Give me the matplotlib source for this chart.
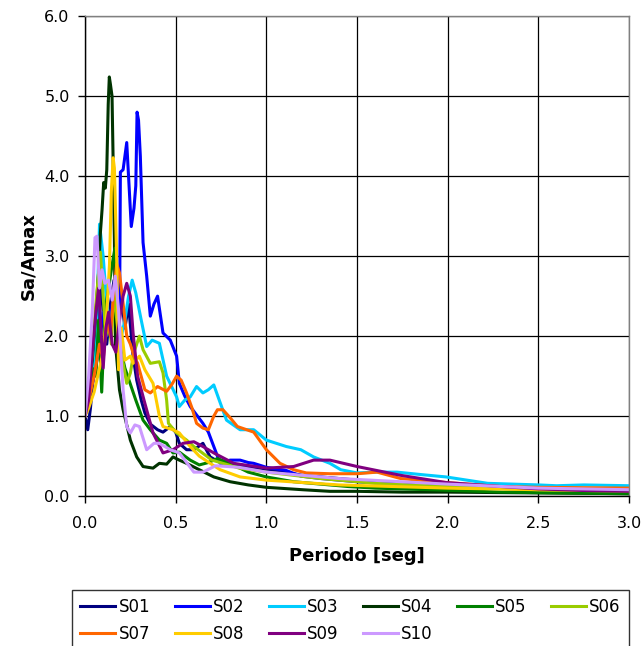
import matplotlib
matplotlib.use("Agg")
import matplotlib.pyplot as plt
from matplotlib.ticker import FormatStrFormatter, MultipleLocator

# Espectros de respuesta normalizados (Sa/Amax) por registro
names = ["S01", "S02", "S03", "S04", "S05", "S06", "S07", "S08", "S09", "S10"]
colors = ["#000080", "#0000FF", "#00CCFF", "#003300", "#008000",
          "#99CC00", "#FF6600", "#FFCC00", "#800080", "#CC99FF"]

s01_t = [0, 0.015, 0.03, 0.05, 0.07, 0.09, 0.1, 0.12, 0.14, 0.16, 0.18, 0.2, 0.22, 0.24, 0.265,
         0.285, 0.31, 0.33, 0.36, 0.4, 0.43, 0.47, 0.5, 0.52, 0.56, 0.6, 0.65, 0.69, 0.72, 0.76,
         0.85, 0.92, 1.0, 1.1, 1.2, 1.35, 1.5, 1.7, 2.0, 2.25, 2.5, 2.75, 3.0]
s01_sa = [1.0, 0.83, 1.1, 1.6, 2.2, 2.6, 2.3, 1.9, 2.4, 2.7, 2.2, 2.5, 2.1, 2.4, 1.75,
          1.45, 1.2, 1.04, 0.9, 0.83, 0.8, 0.87, 0.8, 0.66, 0.58, 0.58, 0.66, 0.49, 0.45, 0.41,
          0.38, 0.36, 0.33, 0.3, 0.26, 0.23, 0.2, 0.16, 0.12, 0.1, 0.08, 0.07, 0.06]

s02_t = [0, 0.02, 0.05, 0.08, 0.1, 0.12, 0.14, 0.16, 0.18, 0.19, 0.195, 0.21, 0.23, 0.255, 0.27,
         0.28, 0.287, 0.295, 0.305, 0.32, 0.34, 0.36, 0.38, 0.40, 0.43, 0.47, 0.505, 0.52, 0.55,
         0.58, 0.62, 0.65, 0.68, 0.71, 0.745, 0.8, 0.855, 0.9, 0.93, 1.0, 1.11, 1.19, 1.3, 1.5,
         1.7, 1.99, 2.2, 2.5, 2.8, 3.0]
s02_sa = [1.0, 1.2, 1.5, 1.9, 2.3, 2.0, 2.2, 2.6, 2.2, 2.0, 4.05, 4.08, 4.42, 3.37, 3.6,
          3.88, 4.8, 4.7, 4.25, 3.17, 2.75, 2.25, 2.4, 2.5, 2.04, 1.95, 1.75, 1.41, 1.25,
          1.12, 1.0, 0.91, 0.8, 0.62, 0.41, 0.45, 0.45, 0.42, 0.41, 0.36, 0.32, 0.25, 0.22, 0.18,
          0.15, 0.12, 0.1, 0.09, 0.08, 0.08]

s03_t = [0, 0.02, 0.035, 0.05, 0.065, 0.08, 0.1, 0.12, 0.14, 0.16, 0.18, 0.2, 0.22, 0.24, 0.26,
         0.28, 0.31, 0.34, 0.37, 0.41, 0.45, 0.505, 0.52, 0.55, 0.58, 0.615, 0.65, 0.68, 0.71,
         0.74, 0.78, 0.855, 0.93, 1.0, 1.11, 1.19, 1.26, 1.35, 1.41, 1.5, 1.6, 1.72, 1.85, 1.99,
         2.22, 2.5, 2.6, 2.75, 3.0]
s03_sa = [1.0, 1.3, 1.85, 1.5, 2.2, 3.4, 3.0, 2.4, 2.1, 2.5, 2.3, 2.0, 2.2, 2.5, 2.7,
          2.54, 2.2, 1.87, 1.95, 1.91, 1.5, 1.24, 1.12, 1.2, 1.24, 1.37, 1.29, 1.33, 1.39,
          1.2, 0.95, 0.83, 0.83, 0.7, 0.62, 0.58, 0.49, 0.41, 0.33, 0.29, 0.3, 0.3, 0.27, 0.24,
          0.16, 0.14, 0.13, 0.14, 0.13]

s04_t = [0, 0.02, 0.04, 0.06, 0.075, 0.085, 0.094, 0.103, 0.112, 0.12, 0.128, 0.134, 0.14,
         0.149, 0.155, 0.162, 0.168, 0.19, 0.21, 0.25, 0.285, 0.32, 0.375, 0.41, 0.45, 0.485,
         0.52, 0.56, 0.63, 0.71, 0.8, 0.9, 1.0, 1.2, 1.35, 1.5, 1.75, 2.0, 2.5, 3.0]
s04_sa = [1.0, 1.3, 1.7, 2.3, 2.8, 3.3, 3.58, 3.92, 3.85, 4.08, 4.9, 5.24, 5.15,
          5.0, 4.2, 3.2, 1.9, 1.33, 1.08, 0.70, 0.49, 0.37, 0.35, 0.41, 0.40, 0.49,
          0.45, 0.41, 0.33, 0.24, 0.18, 0.14, 0.11, 0.08, 0.06, 0.06, 0.05, 0.05, 0.04, 0.03]

s05_t = [0, 0.02, 0.04, 0.06, 0.075, 0.092, 0.11, 0.13, 0.15, 0.165, 0.18, 0.2, 0.22, 0.25,
         0.28, 0.32, 0.36, 0.41, 0.45, 0.485, 0.52, 0.58, 0.63, 0.68, 0.73, 0.8, 0.9, 1.0, 1.15,
         1.3, 1.45, 1.6, 1.9, 2.3, 2.6, 3.0]
s05_sa = [1.0, 1.2, 1.6, 1.5, 2.2, 1.3, 2.3, 2.6, 2.9, 3.1, 2.3, 1.8, 1.6, 1.4,
          1.2, 0.95, 0.83, 0.70, 0.66, 0.54, 0.55, 0.45, 0.39, 0.42, 0.47, 0.41, 0.3, 0.24, 0.18,
          0.15, 0.12, 0.1, 0.08, 0.05, 0.04, 0.03]

s06_t = [0, 0.02, 0.04, 0.06, 0.075, 0.085, 0.1, 0.115, 0.13, 0.145, 0.16, 0.175, 0.19, 0.21,
         0.23, 0.25, 0.27, 0.3, 0.32, 0.36, 0.41, 0.43, 0.45, 0.46, 0.505, 0.56, 0.6, 0.7, 0.85,
         1.0, 1.3, 1.6, 2.0, 2.5, 3.0]
s06_sa = [1.0, 1.3, 1.8, 2.4, 2.8, 3.05, 2.5, 2.0, 2.2, 1.9, 2.6, 2.2, 1.9, 1.66,
          1.41, 1.54, 1.8, 2.0, 1.83, 1.66, 1.68, 1.54, 1.2, 0.91, 0.79, 0.70, 0.62, 0.45, 0.35,
          0.3, 0.22, 0.16, 0.12, 0.08, 0.06]

s07_t = [0, 0.02, 0.05, 0.08, 0.1, 0.12, 0.14, 0.16, 0.175, 0.19, 0.21, 0.23, 0.25, 0.27, 0.29,
         0.33, 0.36, 0.40, 0.45, 0.48, 0.505, 0.53, 0.56, 0.59, 0.615, 0.65, 0.68, 0.71, 0.73,
         0.76, 0.8, 0.84, 0.93, 1.0, 1.075, 1.15, 1.22, 1.35, 1.5, 1.61, 1.74, 1.99, 2.29, 2.5, 3.0]
s07_sa = [1.0, 1.2, 1.5, 1.9, 1.7, 2.2, 2.0, 2.6, 2.9, 2.79, 2.41, 2.0, 1.9, 1.75, 1.66,
          1.33, 1.29, 1.37, 1.31, 1.4, 1.5, 1.45, 1.29, 1.1, 0.91, 0.85, 0.83, 1.0, 1.08,
          1.08, 0.98, 0.87, 0.80, 0.58, 0.41, 0.33, 0.29, 0.28, 0.28, 0.30, 0.22, 0.17, 0.12, 0.11, 0.1]

s08_t = [0, 0.02, 0.05, 0.08, 0.1, 0.12, 0.135, 0.145, 0.155, 0.162, 0.167, 0.176, 0.185, 0.2,
         0.22, 0.25, 0.265, 0.3, 0.33, 0.375, 0.41, 0.43, 0.485, 0.52, 0.58, 0.63, 0.69, 0.745,
         0.855, 1.0, 1.2, 1.4, 1.7, 2.0, 2.5, 3.0]
s08_sa = [1.0, 1.1, 1.3, 1.6, 1.8, 2.3, 2.9, 3.8, 4.23, 4.1, 3.67, 2.83, 1.58, 2.1,
          1.7, 1.75, 1.66, 1.75, 1.58, 1.41, 1.0, 0.87, 0.83, 0.79, 0.62, 0.5, 0.41, 0.33,
          0.24, 0.2, 0.17, 0.14, 0.12, 0.1, 0.08, 0.07]

s09_t = [0, 0.02, 0.04, 0.06, 0.075, 0.09, 0.1, 0.115, 0.13, 0.15, 0.17, 0.19, 0.21, 0.23, 0.25,
         0.265, 0.29, 0.33, 0.375, 0.43, 0.485, 0.54, 0.6, 0.65, 0.71, 0.82, 1.0, 1.15, 1.26,
         1.35, 1.5, 1.74, 1.99, 2.29, 2.5, 2.75, 3.0]
s09_sa = [1.0, 1.2, 1.8, 2.3, 2.6, 2.0, 1.6, 2.1, 2.3, 1.9, 1.8, 2.2, 2.5, 2.66, 2.5,
          2.04, 1.5, 1.16, 0.79, 0.54, 0.58, 0.66, 0.68, 0.62, 0.54, 0.41, 0.35, 0.37, 0.45,
          0.45, 0.37, 0.26, 0.17, 0.12, 0.09, 0.07, 0.06]

s10_t = [0, 0.02, 0.04, 0.055, 0.066, 0.08, 0.094, 0.11, 0.13, 0.15, 0.167, 0.185, 0.2, 0.21,
         0.23, 0.25, 0.275, 0.3, 0.34, 0.38, 0.41, 0.47, 0.52, 0.55, 0.6, 0.65, 0.72, 0.85, 1.0,
         1.4, 2.0, 2.5, 3.0]
s10_sa = [1.0, 1.5, 2.3, 3.23, 3.25, 2.6, 2.83, 2.66, 2.7, 2.45, 2.75, 2.33, 1.7, 1.33,
          0.87, 0.79, 0.89, 0.87, 0.58, 0.66, 0.66, 0.58, 0.54, 0.45, 0.3, 0.3, 0.38, 0.36, 0.3,
          0.22, 0.15, 0.1, 0.08]

periods = [s01_t, s02_t, s03_t, s04_t, s05_t, s06_t, s07_t, s08_t, s09_t, s10_t]
spectra = [s01_sa, s02_sa, s03_sa, s04_sa, s05_sa, s06_sa, s07_sa, s08_sa, s09_sa, s10_sa]

plt.rcParams['font.family'] = ['DejaVu Sans']

fig = plt.figure(figsize=(6.44, 6.46), dpi=100)
ax = fig.add_axes([0.132, 0.232, 0.845, 0.743])

lines = []
for t, sa, name, c in zip(periods, spectra, names, colors):
    ln, = ax.plot(t, sa, color=c, lw=2.2, label=name, solid_joinstyle='round')
    lines.append(ln)

ax.set_xlim(0, 3.0)
ax.set_ylim(0, 6.0)
ax.xaxis.set_major_locator(MultipleLocator(0.5))
ax.yaxis.set_major_locator(MultipleLocator(1.0))
ax.xaxis.set_major_formatter(FormatStrFormatter('%.1f'))
ax.yaxis.set_major_formatter(FormatStrFormatter('%.1f'))
ax.grid(True, color='black', lw=0.9)
ax.set_axisbelow(True)

for side in ['top', 'right']:
    ax.spines[side].set_color('#808080')
    ax.spines[side].set_linewidth(1.0)
for side in ['left', 'bottom']:
    ax.spines[side].set_color('black')
    ax.spines[side].set_linewidth(1.0)

ax.tick_params(axis='both', direction='out', length=5, width=1, labelsize=11.5)
ax.tick_params(axis='x', pad=9)
ax.tick_params(axis='y', pad=6)
ax.set_xlabel('Periodo [seg]', fontsize=13, fontweight='bold', labelpad=12)
ax.set_ylabel('Sa/Amax', fontsize=13, fontweight='bold', labelpad=5)

# matplotlib fills legend columns first; reorder so entries read across rows
order = [0, 6, 1, 7, 2, 8, 3, 9, 4, 5]
leg = fig.legend([lines[i] for i in order], [names[i] for i in order],
                 loc='upper left', bbox_to_anchor=(0.112, 0.087), ncol=6, fontsize=12,
                 frameon=True, fancybox=False, edgecolor='black', handlelength=2.1,
                 handletextpad=0.2, columnspacing=1.45, labelspacing=0.55,
                 borderpad=0.5, borderaxespad=0)
leg.get_frame().set_linewidth(1.0)

fig.savefig('out.png', dpi=100)
